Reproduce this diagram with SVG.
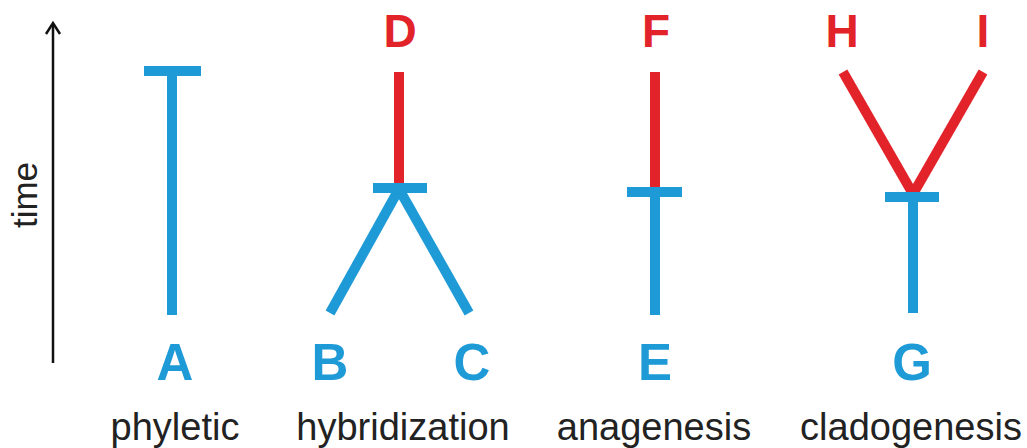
<svg xmlns="http://www.w3.org/2000/svg" width="1027" height="448" viewBox="0 0 1027 448">
<style>
.b{stroke:#1e9bd7;stroke-width:10;fill:none;stroke-linecap:butt}
.r{stroke:#e3232a;stroke-width:10;fill:none;stroke-linecap:butt}
.lb{font-family:"Liberation Sans",Arial,sans-serif;font-weight:bold;font-size:51px;fill:#1e9bd7;text-anchor:middle}
.lr{font-family:"Liberation Sans",Arial,sans-serif;font-weight:bold;font-size:46px;fill:#e3232a;text-anchor:middle}
.cap{font-family:"Liberation Sans",Arial,sans-serif;font-size:38px;fill:#222;text-anchor:middle}
</style>
<rect width="1027" height="448" fill="#fff"/>
<g id="time-axis">
<line x1="53" y1="363" x2="53" y2="24" stroke="#111" stroke-width="2.5"/>
<polyline points="46,34 53,23 60,34" fill="none" stroke="#111" stroke-width="2.5" stroke-linejoin="miter"/>
<text class="cap" font-size="35" transform="translate(37,195) rotate(-90)" style="font-size:35px">time</text>
</g>
<g id="connectors">
<line class="b" x1="172" y1="71" x2="172" y2="315"/>
<line class="b" x1="144" y1="71" x2="201" y2="71"/>
<line class="r" x1="399" y1="72" x2="399" y2="186"/>
<line class="b" x1="330" y1="313" x2="399" y2="189"/>
<line class="b" x1="469" y1="313" x2="399" y2="189"/>
<line class="b" x1="373" y1="188" x2="427" y2="188"/>
<line class="r" x1="655" y1="72" x2="655" y2="190"/>
<line class="b" x1="655" y1="192" x2="655" y2="315"/>
<line class="b" x1="627" y1="192" x2="682" y2="192"/>
<line class="r" x1="843" y1="72" x2="913" y2="194"/>
<line class="r" x1="983" y1="72" x2="913" y2="194"/>
<line class="b" x1="913" y1="197" x2="913" y2="313"/>
<line class="b" x1="885" y1="197" x2="939" y2="197"/>
</g>
<g id="node-A"><text class="lb" x="175" y="380">A</text></g>
<g id="node-B"><text class="lb" x="330" y="380">B</text></g>
<g id="node-C"><text class="lb" x="472" y="380">C</text></g>
<g id="node-D"><text class="lr" x="400" y="47">D</text></g>
<g id="node-E"><text class="lb" x="655" y="380">E</text></g>
<g id="node-F"><text class="lr" x="656" y="47">F</text></g>
<g id="node-G"><text class="lb" x="912" y="380">G</text></g>
<g id="node-H"><text class="lr" x="842" y="47">H</text></g>
<g id="node-I"><text class="lr" x="983" y="47">I</text></g>
<g id="labels">
<text class="cap" x="175" y="440">phyletic</text>
<text class="cap" x="403" y="440">hybridization</text>
<text class="cap" x="654" y="440">anagenesis</text>
<text class="cap" x="911" y="440">cladogenesis</text>
</g>
</svg>
